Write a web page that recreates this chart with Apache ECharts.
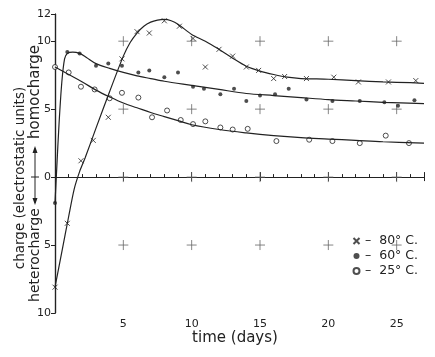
<!DOCTYPE html>
<html><head><meta charset="utf-8">
<script src="https://cdn.jsdelivr.net/npm/echarts@6/dist/echarts.min.js"></script>
<style>html,body{margin:0;padding:0;background:#fff}#c{width:435px;height:357px}</style>
</head><body><div id="c"></div>
<script>
// measured points (days, charge in e.s.u.; negative = heterocharge)
var days80   = [0, 0.9, 1.9, 2.8, 3.9, 4.9, 6.0, 6.9, 8.0, 9.1, 10.1, 11.0, 12.0, 13.0, 14.0, 14.9, 16.0, 16.8, 18.4, 20.4, 22.2, 24.4, 26.4];
var charge80 = [-8.1, -3.4, 1.2, 2.7, 4.4, 8.7, 10.7, 10.6, 11.5, 11.1, 10.2, 8.1, 9.4, 8.9, 8.1, 7.85, 7.25, 7.4, 7.25, 7.35, 7.0, 7.0, 7.1];
var days60   = [0, 0.9, 1.8, 3.0, 3.9, 4.9, 6.1, 6.9, 8.0, 9.0, 10.1, 10.9, 12.1, 13.1, 14.0, 15.0, 16.1, 17.1, 18.4, 20.3, 22.3, 24.1, 25.1, 26.3];
var charge60 = [-1.9, 9.2, 9.1, 8.2, 8.35, 8.2, 7.7, 7.85, 7.35, 7.7, 6.65, 6.5, 6.1, 6.5, 5.6, 6.0, 6.1, 6.5, 5.7, 5.6, 5.6, 5.5, 5.25, 5.65];
var days25   = [0, 1.0, 1.9, 2.9, 4.0, 4.9, 6.1, 7.1, 8.2, 9.2, 10.1, 11.0, 12.1, 13.0, 14.1, 16.2, 18.6, 20.3, 22.3, 24.2, 25.9];
var charge25 = [8.1, 7.7, 6.65, 6.45, 5.8, 6.2, 5.85, 4.4, 4.9, 4.2, 3.9, 4.1, 3.65, 3.5, 3.55, 2.65, 2.75, 2.65, 2.5, 3.05, 2.5];

// hand-drawn fitted curves
var curveDays80 = [0, 0.5, 1, 1.4, 1.8, 2.2, 3, 4, 5, 5.5, 6, 6.5, 7, 7.5, 8, 8.5, 9, 10, 11, 12, 13, 14, 15, 16, 17, 18, 20, 22, 24, 26, 27];
var curveVals80 = [-8.1, -5.5, -2.9, -0.9, 0.4, 1.4, 3.6, 6.3, 8.9, 9.9, 10.6, 11.1, 11.4, 11.55, 11.6, 11.5, 11.25, 10.5, 10.0, 9.4, 8.75, 8.15, 7.8, 7.55, 7.35, 7.25, 7.2, 7.1, 7.0, 6.95, 6.9];
var curveDays60 = [0, 0.12, 0.3, 0.5, 0.7, 0.9, 1.3, 1.8, 2.3, 3, 4, 5, 6, 7, 8, 10, 12, 14, 16, 18, 20, 22, 24, 27];
var curveVals60 = [-1.9, 0.5, 4.0, 7.0, 8.7, 9.1, 9.2, 9.1, 8.8, 8.35, 8.0, 7.7, 7.45, 7.25, 7.05, 6.75, 6.45, 6.15, 6.0, 5.85, 5.7, 5.6, 5.5, 5.4];
var curveDays25 = [0, 1, 2, 3, 4, 5, 6, 7, 8, 9, 10, 12, 14, 16, 18, 20, 22, 24, 27];
var curveVals25 = [8.1, 7.55, 7.0, 6.4, 5.9, 5.45, 5.1, 4.75, 4.45, 4.15, 3.85, 3.5, 3.25, 3.05, 2.9, 2.8, 2.7, 2.6, 2.5];

// axis ticks and the "+" reference marks
var xTicks = [5, 10, 15, 20, 25];
var yTicks = [10, 5, 0, -5];
var legendNames = ['80° C.', '60° C.', '25° C.'];

var ink = '#222';
var font = 'DejaVu Sans';
function pairs(a, b) { return a.map(function (d, i) { return [d, b[i]]; }); }
var crosses = [];
xTicks.forEach(function (x) { yTicks.forEach(function (y) { crosses.push([x, y]); }); });

var chart = echarts.init(document.getElementById('c'), null, {renderer: 'canvas'});
var lineStyle = {color: ink, width: 1.2};
chart.setOption({
  backgroundColor: '#fff',
  animation: false,
  grid: {left: 55, right: 11, top: 14, bottom: 44},
  legend: {
    data: legendNames, orient: 'vertical', left: 351, top: 234,
    itemWidth: 7, itemHeight: 6, itemGap: 1, padding: 0,
    textStyle: {color: ink, fontFamily: font, fontSize: 12.5, lineHeight: 14},
    formatter: function (n) { return '–  ' + n; }
  },
  xAxis: [{
    type: 'value', min: 0, max: 27, interval: 5,
    axisLine: {lineStyle: {color: ink, width: 1.2}},
    axisTick: {inside: true, length: 5, lineStyle: {color: ink}},
    minorTick: {show: true, splitNumber: 5, length: 3, lineStyle: {color: ink}},
    splitLine: {show: false},
    axisLabel: {color: ink, fontFamily: font, fontSize: 11, margin: 6,
      formatter: function (v) { return v === 0 || v === 27 ? '' : v; }}
  }, {
    type: 'value', min: 0, max: 27, interval: 5, position: 'top',
    axisLine: {lineStyle: {color: ink, width: 1.2}},
    axisTick: {inside: true, length: 4, lineStyle: {color: ink}},
    axisLabel: {show: false}, splitLine: {show: false}
  }],
  yAxis: [{
    type: 'value', min: -10, max: 12, interval: 5,
    axisLine: {show: true, lineStyle: {color: ink, width: 1.2}},
    axisTick: {show: true, inside: false, length: 4, lineStyle: {color: ink}},
    splitLine: {show: false},
    axisLabel: {color: ink, fontFamily: font, fontSize: 11, margin: 4,
      formatter: function (v) { return Math.abs(v); }}
  }, {
    type: 'value', min: -10, max: 12, interval: 5, position: 'right',
    axisLine: {show: true, lineStyle: {color: ink, width: 1.2}},
    axisTick: {show: true, inside: true, length: 4, lineStyle: {color: ink}},
    axisLabel: {show: false}, splitLine: {show: false}
  }],
  series: [
    {type: 'scatter', name: 'marks', data: crosses, silent: true,
      symbol: 'path://M5,0L5,10M0,5L10,5', symbolSize: 10,
      itemStyle: {color: 'none', borderColor: '#666', borderWidth: 1}},
    {type: 'line', name: 'c80', data: pairs(curveDays80, curveVals80), smooth: 0.25, showSymbol: false, lineStyle: lineStyle},
    {type: 'line', name: 'c60', data: pairs(curveDays60, curveVals60), smooth: 0.3, showSymbol: false, lineStyle: lineStyle},
    {type: 'line', name: 'c25', data: pairs(curveDays25, curveVals25), smooth: 0.35, showSymbol: false, lineStyle: lineStyle},
    {type: 'scatter', name: legendNames[0], data: pairs(days80, charge80),
      symbol: 'path://M0,0L10,10M10,0L0,10', symbolSize: 5,
      itemStyle: {color: 'none', borderColor: ink, borderWidth: 1}},
    {type: 'scatter', name: legendNames[1], data: pairs(days60, charge60),
      symbol: 'circle', symbolSize: 4, itemStyle: {color: ink}},
    {type: 'scatter', name: legendNames[2], data: pairs(days25, charge25),
      symbol: 'circle', symbolSize: 5,
      itemStyle: {color: '#fff', borderColor: ink, borderWidth: 1}}
  ],
  graphic: [
    {type: 'text', x: 235, y: 338, style: {text: 'time (days)', font: '15px "DejaVu Sans"', fill: ink, align: 'center', verticalAlign: 'middle'}},
    {type: 'text', x: 20, y: 178, rotation: Math.PI / 2, style: {text: 'charge (electrostatic units)', font: '13.5px "DejaVu Sans"', fill: ink, align: 'center', verticalAlign: 'middle'}},
    {type: 'text', x: 35, y: 255, rotation: Math.PI / 2, style: {text: 'heterocharge', font: '14px "DejaVu Sans"', fill: ink, align: 'center', verticalAlign: 'middle'}},
    {type: 'text', x: 35, y: 92, rotation: Math.PI / 2, style: {text: 'homocharge', font: '15px "DejaVu Sans"', fill: ink, align: 'center', verticalAlign: 'middle'}},
    {type: 'line', shape: {x1: 35, y1: 148, x2: 35, y2: 203}, style: {stroke: ink, lineWidth: 1}},
    {type: 'line', shape: {x1: 31, y1: 177, x2: 39, y2: 177}, style: {stroke: ink, lineWidth: 1}},
    {type: 'polygon', shape: {points: [[35, 146], [32.5, 153], [37.5, 153]]}, style: {fill: ink}},
    {type: 'polygon', shape: {points: [[35, 205], [32.5, 198], [37.5, 198]]}, style: {fill: ink}}
  ]
});
</script></body></html>
